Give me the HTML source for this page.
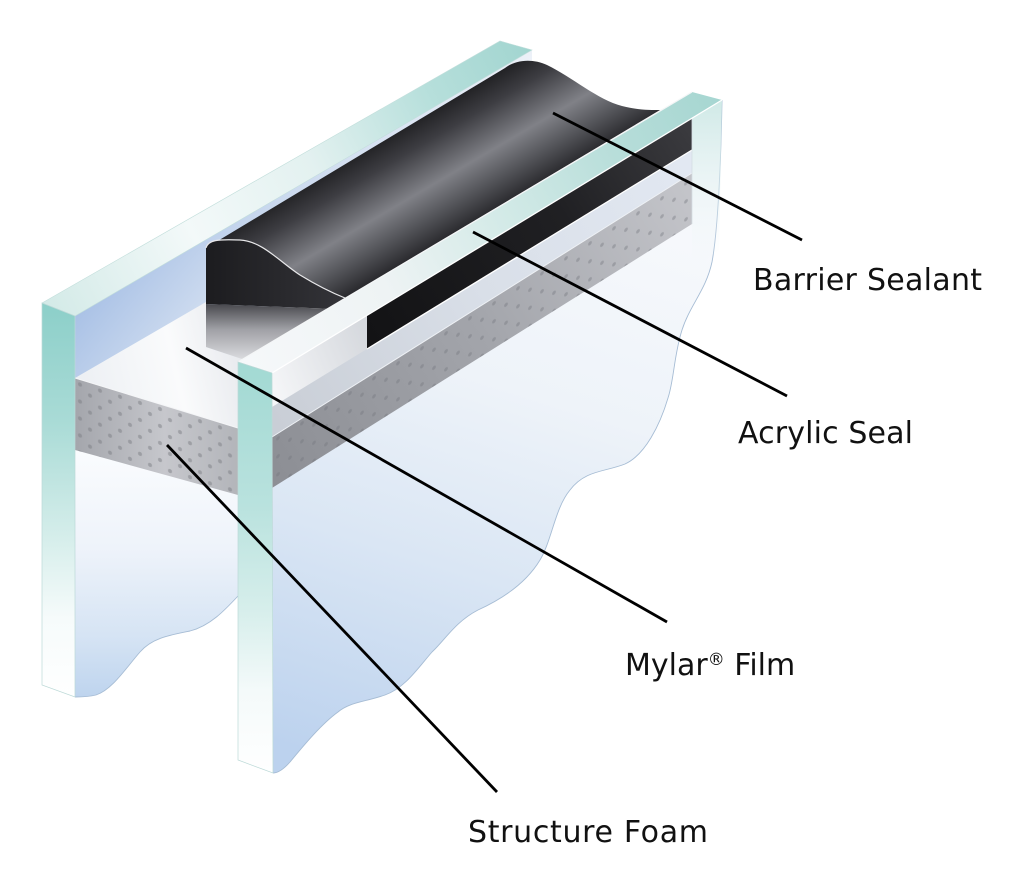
<!DOCTYPE html>
<html>
<head>
<meta charset="utf-8">
<style>
html,body{margin:0;padding:0;background:#fff;}
svg{display:block;}
text{font-family:"DejaVu Sans","Liberation Sans",sans-serif;fill:#111;}
</style>
</head>
<body>
<svg width="1024" height="870" viewBox="0 0 1024 870" xmlns="http://www.w3.org/2000/svg">
<defs>
  <linearGradient id="bfU" gradientUnits="userSpaceOnUse" x1="75" y1="300" x2="235" y2="430">
    <stop offset="0" stop-color="#a6bfe5"/>
    <stop offset="0.5" stop-color="#cddbef"/>
    <stop offset="1" stop-color="#eef2f8"/>
  </linearGradient>
  <linearGradient id="bfL" gradientUnits="userSpaceOnUse" x1="0" y1="450" x2="0" y2="697">
    <stop offset="0" stop-color="#fafcfe"/>
    <stop offset="0.4" stop-color="#eef3fa"/>
    <stop offset="0.75" stop-color="#d6e4f4"/>
    <stop offset="1" stop-color="#bed4ee"/>
  </linearGradient>
  <linearGradient id="btop" gradientUnits="userSpaceOnUse" x1="42" y1="303" x2="532" y2="50">
    <stop offset="0" stop-color="#d3eae7"/>
    <stop offset="0.3" stop-color="#f3f9f9"/>
    <stop offset="0.55" stop-color="#e3f1f0"/>
    <stop offset="0.8" stop-color="#b6dfdb"/>
    <stop offset="1" stop-color="#a2d5d0"/>
  </linearGradient>
  <linearGradient id="ftop" gradientUnits="userSpaceOnUse" x1="238" y1="362" x2="722" y2="100">
    <stop offset="0" stop-color="#f6f8fa"/>
    <stop offset="0.3" stop-color="#eef3f4"/>
    <stop offset="0.55" stop-color="#d3eae7"/>
    <stop offset="0.8" stop-color="#b6ddd9"/>
    <stop offset="1" stop-color="#a6d6d1"/>
  </linearGradient>
  <linearGradient id="bedge" gradientUnits="userSpaceOnUse" x1="0" y1="303" x2="0" y2="697">
    <stop offset="0" stop-color="#8ccfc9"/>
    <stop offset="0.3" stop-color="#a9dbd6"/>
    <stop offset="0.6" stop-color="#d6eeeb"/>
    <stop offset="0.8" stop-color="#f6fbfb"/>
    <stop offset="1" stop-color="#ffffff"/>
  </linearGradient>
  <linearGradient id="fedge" gradientUnits="userSpaceOnUse" x1="0" y1="362" x2="0" y2="773">
    <stop offset="0" stop-color="#a2d9d3"/>
    <stop offset="0.35" stop-color="#b9e2de"/>
    <stop offset="0.6" stop-color="#d6eeeb"/>
    <stop offset="0.8" stop-color="#f4fafa"/>
    <stop offset="1" stop-color="#ffffff"/>
  </linearGradient>
  <linearGradient id="ffront" gradientUnits="userSpaceOnUse" x1="520" y1="160" x2="330" y2="760">
    <stop offset="0" stop-color="#f7f9fc"/>
    <stop offset="0.35" stop-color="#eef3f9"/>
    <stop offset="0.65" stop-color="#dae6f4"/>
    <stop offset="1" stop-color="#bcd2ee"/>
  </linearGradient>
  <linearGradient id="mylarTop" gradientUnits="userSpaceOnUse" x1="75" y1="378" x2="238" y2="340">
    <stop offset="0" stop-color="#eceff3"/>
    <stop offset="0.6" stop-color="#fafbfc"/>
    <stop offset="1" stop-color="#e8eaee"/>
  </linearGradient>
  <linearGradient id="foamL" gradientUnits="userSpaceOnUse" x1="75" y1="0" x2="238" y2="0">
    <stop offset="0" stop-color="#a4a6ac"/>
    <stop offset="0.55" stop-color="#c6c7cc"/>
    <stop offset="1" stop-color="#b3b5ba"/>
  </linearGradient>
  <linearGradient id="foamB" gradientUnits="userSpaceOnUse" x1="272" y1="460" x2="692" y2="200">
    <stop offset="0" stop-color="#8d8f95"/>
    <stop offset="0.5" stop-color="#a3a5ab"/>
    <stop offset="1" stop-color="#c3c4c9"/>
  </linearGradient>
  <linearGradient id="lightB" gradientUnits="userSpaceOnUse" x1="272" y1="420" x2="692" y2="160">
    <stop offset="0" stop-color="#c9ced6"/>
    <stop offset="0.5" stop-color="#d9dfe8"/>
    <stop offset="1" stop-color="#e2e8f2"/>
  </linearGradient>
  <linearGradient id="blackB" gradientUnits="userSpaceOnUse" x1="367" y1="330" x2="692" y2="135">
    <stop offset="0" stop-color="#131315"/>
    <stop offset="0.6" stop-color="#202023"/>
    <stop offset="1" stop-color="#3a3a3e"/>
  </linearGradient>
  <linearGradient id="sealTop" gradientUnits="userSpaceOnUse" x1="420" y1="119" x2="478" y2="218">
    <stop offset="0" stop-color="#232326"/>
    <stop offset="0.2" stop-color="#3d3d42"/>
    <stop offset="0.55" stop-color="#808187"/>
    <stop offset="0.78" stop-color="#55565b"/>
    <stop offset="1" stop-color="#2c2c30"/>
  </linearGradient>
  <linearGradient id="sealLeft" gradientUnits="userSpaceOnUse" x1="206" y1="0" x2="360" y2="0">
    <stop offset="0" stop-color="#1c1c1f"/>
    <stop offset="1" stop-color="#36363b"/>
  </linearGradient>
  <linearGradient id="refl" gradientUnits="userSpaceOnUse" x1="0" y1="304" x2="0" y2="360">
    <stop offset="0" stop-color="#48484d"/>
    <stop offset="0.45" stop-color="#9fa0a5"/>
    <stop offset="1" stop-color="#dcdde0"/>
  </linearGradient>
  <linearGradient id="under" gradientUnits="userSpaceOnUse" x1="272" y1="380" x2="367" y2="340">
    <stop offset="0" stop-color="#f4f5f7"/>
    <stop offset="1" stop-color="#d6d9de"/>
  </linearGradient>
  <linearGradient id="tealEnd" gradientUnits="userSpaceOnUse" x1="0" y1="100" x2="0" y2="270">
    <stop offset="0" stop-color="#cfe9e6"/>
    <stop offset="1" stop-color="#f3f8fa" stop-opacity="0"/>
  </linearGradient>
  <pattern id="dotsL" width="20" height="17" patternUnits="userSpaceOnUse" patternTransform="translate(75,378) skewY(17)">
    <circle cx="5" cy="5" r="2" fill="#7c7e84" opacity="0.5"/>
    <circle cx="15" cy="13" r="2" fill="#7c7e84" opacity="0.5"/>
  </pattern>
  <pattern id="dotsB" width="24" height="18" patternUnits="userSpaceOnUse" patternTransform="translate(272,437) skewY(-32)">
    <circle cx="6" cy="5" r="1.9" fill="#74767c" opacity="0.4"/>
    <circle cx="18" cy="14" r="1.9" fill="#74767c" opacity="0.4"/>
  </pattern>
</defs>

<rect width="1024" height="870" fill="#ffffff"/>

<!-- Back pane front face -->
<polygon points="75,316 532,50 532,66 238,362 238,440 75,395" fill="url(#bfU)"/>
<path d="M75,440 L238,482 L238,596 C225,610 210,626 190,631 C170,635 152,638 140,652 C126,668 112,690 96,695 C88,697 80,697 75,697 Z" fill="url(#bfL)"/>
<path d="M238,596 C225,610 210,626 190,631 C170,635 152,638 140,652 C126,668 112,690 96,695 C88,697 80,697 75,697" fill="none" stroke="#a6bcd4" stroke-width="0.9"/>

<!-- Back pane top face -->
<polygon points="42,303 500,41 532,50 75,316" fill="url(#btop)" stroke="#c2dedb" stroke-width="0.6"/>

<!-- Mylar top surface (left) -->
<polygon points="75,378 206,302 206,347 242,359 238,428" fill="url(#mylarTop)"/>

<!-- Foam left face -->
<polygon points="75,378 238,428 238,495 75,450" fill="url(#foamL)"/>
<polygon points="75,378 238,428 238,495 75,450" fill="url(#dotsL)"/>
<line x1="75" y1="378" x2="238" y2="428" stroke="#f4f5f7" stroke-width="1"/>

<!-- Sealant top surface -->
<path d="M206,248 L505,68 C515,60 532,58 547,65 C572,77 598,100 622,106 C638,110 650,110 660,110 L345,298 C330,292 318,286 300,275 C280,262 262,241 240,240 C218,239 208,240 206,248 Z" fill="url(#sealTop)"/>
<!-- Sealant left face -->
<path d="M206,248 C208,240 218,239 240,240 C262,241 280,262 300,275 C318,286 330,292 345,298 L362,300 L362,310 L206,304 Z" fill="url(#sealLeft)"/>
<path d="M206,248 C208,240 218,239 240,240 C262,241 280,262 300,275 C318,286 330,292 345,298" fill="none" stroke="#e8e8ea" stroke-width="1.2"/>
<!-- Reflection region below sealant -->
<polygon points="206,304 362,310 367,352 272,410 242,359 206,347" fill="url(#refl)"/>

<!-- Front pane front face -->
<path d="M272,373 L722,100 C721,160 718,230 712,262 C706,290 690,305 682,330 C674,355 674,380 668,398 C660,425 645,455 625,464 C605,472 585,470 570,490 C555,508 552,540 540,560 C525,585 500,600 478,610 C455,622 445,640 432,652 C418,668 405,688 385,695 C365,702 350,702 338,712 C320,725 300,750 290,762 C283,770 278,773 273,773 Z" fill="url(#ffront)"/>
<path d="M722,100 C721,160 718,230 712,262 C706,290 690,305 682,330 C674,355 674,380 668,398 C660,425 645,455 625,464 C605,472 585,470 570,490 C555,508 552,540 540,560 C525,585 500,600 478,610 C455,622 445,640 432,652 C418,668 405,688 385,695 C365,702 350,702 338,712 C320,725 300,750 290,762 C283,770 278,773 273,773" fill="none" stroke="#a6bcd4" stroke-width="0.9"/>
<polygon points="692,118 722,100 719,250 692,270" fill="url(#tealEnd)"/>

<!-- Bands seen through front glass -->
<polygon points="272,373 367,315 367,352 272,410" fill="url(#under)"/>
<polygon points="272,407 692,150 692,173 272,437" fill="url(#lightB)"/>
<polygon points="367,315 692,118 692,150 367,349" fill="url(#blackB)"/>
<polygon points="272,437 692,173 692,224 272,488" fill="url(#foamB)"/>
<polygon points="272,437 692,173 692,224 272,488" fill="url(#dotsB)"/>
<line x1="367" y1="349" x2="692" y2="150" stroke="#ffffff" stroke-width="1.3"/>
<line x1="272" y1="437" x2="692" y2="173" stroke="#eef1f5" stroke-width="1"/>
<line x1="692" y1="118" x2="692" y2="224" stroke="#d5dde3" stroke-width="0.8"/>

<!-- Front pane top face -->
<polygon points="238,362 692,92 722,100 272,373" fill="url(#ftop)"/>
<line x1="238" y1="362" x2="692" y2="92" stroke="#f4f6f7" stroke-width="1.3"/>
<line x1="272" y1="373" x2="722" y2="100" stroke="#ffffff" stroke-width="1.3"/>

<!-- Edge faces -->
<polygon points="42,303 75,316 75,697 42,685" fill="url(#bedge)" stroke="#bcd9d7" stroke-width="0.7"/>
<polygon points="238,362 272,373 273,773 238,760" fill="url(#fedge)" stroke="#bcd9d7" stroke-width="0.7"/>

<!-- Leader lines -->
<g stroke="#000" stroke-width="2.8" stroke-linecap="butt">
  <line x1="553" y1="113" x2="802" y2="240"/>
  <line x1="473" y1="232" x2="787" y2="396"/>
  <line x1="186" y1="348" x2="667" y2="622"/>
  <line x1="167" y1="445" x2="497" y2="792"/>
</g>

<!-- Labels -->
<text x="753" y="290" font-size="30" textLength="229" lengthAdjust="spacing">Barrier Sealant</text>
<text x="738" y="443" font-size="30" textLength="175" lengthAdjust="spacing">Acrylic Seal</text>
<text x="625" y="675" font-size="30">Mylar<tspan font-size="17" dy="-10">®</tspan><tspan dy="10"> Film</tspan></text>
<text x="468" y="842" font-size="30" textLength="240" lengthAdjust="spacing">Structure Foam</text>
</svg>
</body>
</html>
